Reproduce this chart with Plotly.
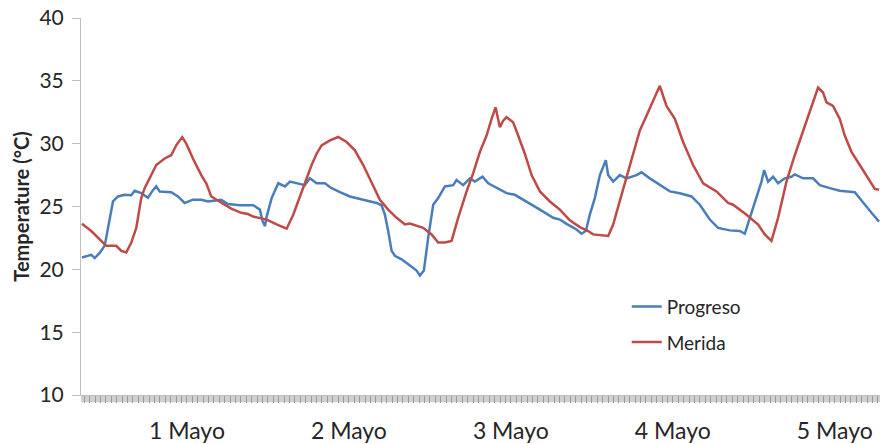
import plotly.graph_objects as go

# Hourly position of each reading (hours from 1 May 00:00) and temperature (°C)
progreso_hours = [-3.56, -2.18, -1.67, -0.93, -0.19, 0.55, 1.04, 1.78, 2.77, 3.75, 4.25, 5.23, 6.22,
                  6.96, 7.45, 7.96, 9.67, 10.67, 11.66, 12.89, 14.12, 15.11, 17.08, 18.07, 19.85,
                  21.82, 22.81, 23.21, 23.56, 23.81, 24.55, 25.53, 26.52, 27.26, 28.49, 29.48,
                  30.22, 31.21, 32.44, 33.44, 34.67, 36.15, 38.12, 40.10, 40.84, 41.33, 41.82,
                  42.33, 42.81, 43.81, 44.79, 46.03, 46.52, 47.11, 47.75, 48.49, 49.23, 50.22,
                  51.45, 51.95, 52.93, 53.93, 54.67, 55.81, 56.64, 57.88, 59.36, 60.59, 62.33,
                  64.30, 66.27, 67.26, 68.25, 69.73, 70.47, 71.11, 71.70, 72.44, 73.19, 74.07,
                  74.42, 75.16, 76.15, 77.14, 78.62, 79.36, 80.59, 82.07, 83.56, 85.04, 86.77,
                  88.00, 89.48, 90.71, 92.44, 93.93, 94.67, 95.41, 96.40, 97.14, 97.53, 98.12,
                  98.86, 99.60, 100.59, 101.58, 102.07, 103.30, 104.78, 105.78, 107.26, 108.74,
                  110.96, 112.19, 113.44, 114.56]
progreso_temp = [20.94, 21.15, 20.90, 21.30, 21.87, 24.10, 25.40, 25.80, 25.93, 25.90, 26.25, 26.06,
                 25.70, 26.30, 26.60, 26.20, 26.14, 25.80, 25.28, 25.54, 25.54, 25.40, 25.54, 25.20,
                 25.10, 25.10, 24.75, 23.83, 23.44, 24.20, 25.67, 26.85, 26.60, 26.98, 26.85, 26.70,
                 27.24, 26.85, 26.85, 26.46, 26.14, 25.80, 25.54, 25.28, 25.10, 24.35, 23.05, 21.47,
                 21.08, 20.80, 20.40, 19.90, 19.50, 19.90, 22.52, 25.14, 25.67, 26.60, 26.70, 27.10,
                 26.70, 27.24, 26.98, 27.37, 26.85, 26.46, 26.06, 25.93, 25.40, 24.75, 24.10, 23.96,
                 23.62, 23.17, 22.83, 23.05, 24.35, 25.67, 27.50, 28.68, 27.50, 26.98, 27.50, 27.24,
                 27.50, 27.72, 27.24, 26.70, 26.20, 26.06, 25.80, 25.14, 23.96, 23.30, 23.10, 23.05,
                 22.83, 24.10, 25.80, 26.98, 27.90, 26.98, 27.37, 26.85, 27.24, 27.37, 27.56, 27.24,
                 27.24, 26.70, 26.46, 26.25, 26.14, 25.28, 24.50, 23.80]

merida_hours = [-3.56, -2.18, -0.70, 0.04, 1.53, 2.27, 3.01, 3.75, 4.49, 5.23, 5.73, 6.47, 7.45,
                8.70, 9.67, 10.41, 11.30, 11.90, 12.89, 14.12, 14.86, 15.60, 17.08, 18.56, 20.04,
                21.04, 21.82, 23.81, 25.29, 26.77, 27.75, 28.74, 29.73, 30.47, 31.21, 31.95, 33.19,
                34.41, 35.66, 36.89, 38.12, 39.36, 40.59, 41.82, 43.07, 44.30, 45.04, 47.00, 48.25,
                49.23, 50.22, 51.21, 52.19, 53.44, 54.41, 55.41, 56.40, 57.14, 57.73, 58.37, 58.86,
                59.36, 60.34, 61.08, 62.07, 63.07, 64.30, 65.78, 67.26, 68.74, 70.22, 71.45, 72.19,
                74.42, 75.16, 76.40, 77.88, 79.11, 80.10, 81.08, 82.07, 83.06, 84.30, 85.52, 87.00,
                88.49, 90.47, 92.19, 92.93, 94.92, 96.64, 97.63, 98.62, 99.60, 100.84, 102.07,
                103.06, 104.04, 104.78, 105.52, 106.26, 106.77, 107.74, 108.74, 109.48, 110.47,
                111.70, 112.93, 113.93, 114.56]
merida_temp = [23.62, 23.05, 22.26, 21.87, 21.87, 21.47, 21.34, 22.13, 23.30, 25.67, 26.46, 27.24,
               28.30, 28.82, 29.08, 29.87, 30.52, 30.00, 28.82, 27.50, 26.85, 25.80, 25.28, 24.83,
               24.50, 24.40, 24.20, 23.96, 23.57, 23.23, 24.35, 25.80, 27.37, 28.30, 29.20, 29.87,
               30.26, 30.53, 30.13, 29.47, 28.30, 26.98, 25.54, 24.75, 24.10, 23.57, 23.65, 23.30,
               22.78, 22.13, 22.13, 22.26, 24.10, 26.20, 27.64, 29.35, 30.65, 31.97, 32.89, 31.31,
               31.83, 32.10, 31.70, 30.65, 29.20, 27.50, 26.20, 25.40, 24.75, 23.90, 23.36, 23.05,
               22.78, 22.65, 23.57, 25.93, 28.82, 31.05, 32.23, 33.41, 34.60, 33.00, 31.97, 30.13,
               28.30, 26.85, 26.20, 25.28, 25.14, 24.35, 23.57, 22.78, 22.26, 24.10, 26.98, 29.08,
               30.65, 32.23, 33.41, 34.46, 34.07, 33.28, 33.00, 31.97, 30.65, 29.35, 28.30, 27.24,
               26.40, 26.33]

day_positions = [12, 36, 60, 84, 108]
day_labels = ["1 Mayo", "2 Mayo", "3 Mayo", "4 Mayo", "5 Mayo"]
y_ticks = [10, 15, 20, 25, 30, 35, 40]

FONT = "Lato"
AXIS_GRAY = "#bfbfbf"
TEXT = "#262626"

fig = go.Figure()
fig.add_trace(go.Scatter(x=progreso_hours, y=progreso_temp, mode="lines", name="Progreso",
                         legendgroup="p", line=dict(color="#4a7ebb", width=2.5)))
fig.add_trace(go.Scatter(x=merida_hours, y=merida_temp, mode="lines", name="Merida",
                         legendgroup="m", line=dict(color="#be4b48", width=2.5)))

# shaded strip behind the dense category ticks under the x axis
fig.add_shape(type="rect", xref="paper", yref="paper", x0=0, x1=1, y0=-0.019, y1=0,
              fillcolor="#d0d0d0", line_width=0, layer="below")

fig.update_layout(
    width=880, height=444,
    margin=dict(l=81, r=0, t=18, b=45),
    paper_bgcolor="white", plot_bgcolor="white",
    font=dict(family=FONT, color=TEXT),
    showlegend=True,
    legend=dict(x=0.683, y=0.285, xanchor="left", yanchor="top",
                font=dict(family=FONT, size=19, color=TEXT),
                traceorder="grouped", tracegroupgap=8,
                bgcolor="rgba(0,0,0,0)", itemwidth=30),
    xaxis=dict(
        range=[-3.7, 114.7],
        tickmode="array", tickvals=day_positions, ticktext=day_labels,
        tickfont=dict(family=FONT, size=23, color=TEXT),
        showline=True, linecolor=AXIS_GRAY, linewidth=1,
        ticks="outside", ticklen=7, tickcolor="#9a9a9a", tickwidth=1,
        minor=dict(ticks="outside", ticklen=7, tickcolor="#9a9a9a", tickwidth=1,
                   tick0=0, dtick=0.8, showgrid=False),
        showgrid=False, zeroline=False,
        ticklabelstandoff=8,
    ),
    yaxis=dict(
        range=[10, 40],
        tickmode="array", tickvals=y_ticks,
        tickfont=dict(family=FONT, size=21, color=TEXT),
        showline=True, linecolor=AXIS_GRAY, linewidth=1,
        ticks="outside", ticklen=8, tickcolor=AXIS_GRAY, tickwidth=1,
        showgrid=False, zeroline=False,
        ticklabelstandoff=4,
        title=dict(text="<b>Temperature (°C)</b>", font=dict(family=FONT, size=20, color=TEXT),
                   standoff=4),
    ),
)

fig.write_html("out.html")
